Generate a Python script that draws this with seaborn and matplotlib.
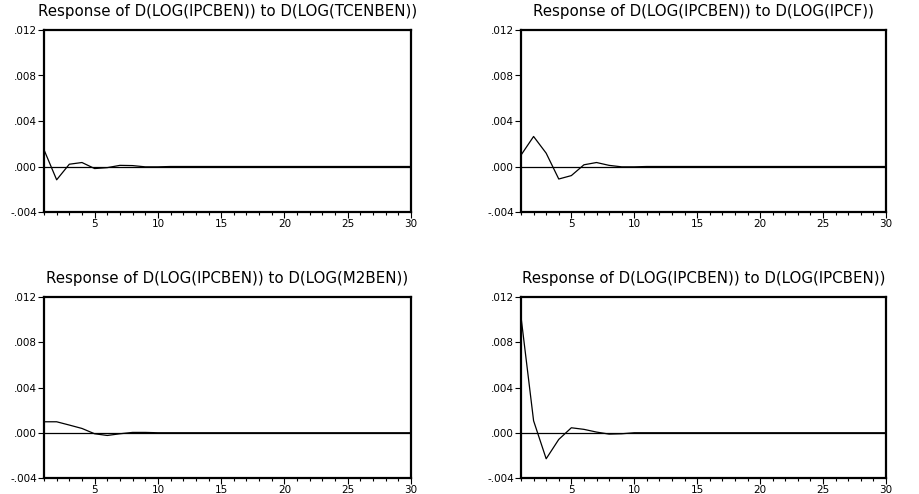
import numpy as np
import pandas as pd
import seaborn as sns
import matplotlib.pyplot as plt
from matplotlib.ticker import MultipleLocator, FuncFormatter

periods = list(range(1, 31))

resp_tcenben = [0.00147, -0.00117, 0.00020, 0.00035, -0.00018, -0.00010, 0.00010, 0.00008,
                -0.00003, -0.00003] + [0.0] * 20
resp_ipcf = [0.00100, 0.00264, 0.00117, -0.00110, -0.00080, 0.00015, 0.00035, 0.00010,
             -0.00003, -0.00003] + [0.0] * 20
resp_m2ben = [0.00097, 0.00097, 0.00068, 0.00038, -0.00009, -0.00024, -0.00009, 0.00003,
              0.00003, 0.0] + [0.0] * 20
resp_ipcben = [0.01025, 0.00106, -0.00230, -0.00059, 0.00044, 0.00030, 0.00006, -0.00012,
               -0.00009, 0.0] + [0.0] * 20

titles = ['Response of D(LOG(IPCBEN)) to D(LOG(TCENBEN))',
          'Response of D(LOG(IPCBEN)) to D(LOG(IPCF))',
          'Response of D(LOG(IPCBEN)) to D(LOG(M2BEN))',
          'Response of D(LOG(IPCBEN)) to D(LOG(IPCBEN))']
series = [resp_tcenben, resp_ipcf, resp_m2ben, resp_ipcben]

sns.set_style('ticks')
plt.rcParams['font.family'] = ['DejaVu Sans']

fig = plt.figure(figsize=(9.19, 4.94), dpi=100)
W, H = 919, 494
# axes boxes in pixels: left, top, right, bottom
boxes = [(44, 30, 411, 212), (521, 30, 886, 212),
         (44, 297, 411, 478), (521, 297, 886, 478)]


def fmt(v, pos):
    s = f'{v:.3f}'
    return s.replace('0.', '.', 1)


for box, title, vals in zip(boxes, titles, series):
    l, t, r, b = box
    ax = fig.add_axes([l / W, 1 - b / H, (r - l) / W, (b - t) / H])
    df = pd.DataFrame({'period': periods, 'response': vals})
    ax.axhline(0, color='black', lw=0.9)
    sns.lineplot(data=df, x='period', y='response', ax=ax, color='black', lw=0.9)
    ax.set_xlim(1, 30)
    ax.set_ylim(-0.004, 0.012)
    ax.yaxis.set_major_locator(MultipleLocator(0.004))
    ax.yaxis.set_major_formatter(FuncFormatter(fmt))
    ax.xaxis.set_major_locator(MultipleLocator(5))
    ax.xaxis.set_minor_locator(MultipleLocator(1))
    ax.set_xlabel('')
    ax.set_ylabel('')
    for sp in ax.spines.values():
        sp.set_visible(True)
        sp.set_linewidth(1.6)
        sp.set_color('black')
    ax.tick_params(axis='both', which='major', length=4, width=0.8, labelsize=7.5,
                   colors='black', labelcolor='black', pad=1)
    ax.tick_params(axis='x', which='minor', length=2.5, width=0.8, colors='black')
    ax.set_title(title, fontsize=10.8, pad=10, color='black')

fig.savefig('out.png', dpi=100)
